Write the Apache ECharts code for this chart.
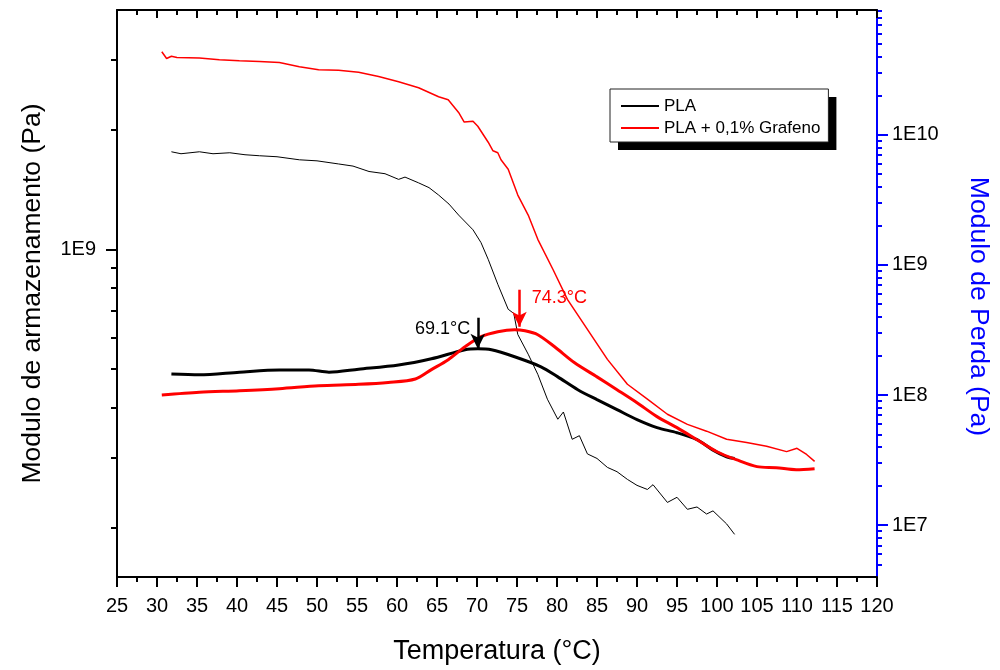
<!DOCTYPE html>
<html>
<head>
<meta charset="utf-8">
<script src="https://cdn.jsdelivr.net/npm/echarts@6/dist/echarts.min.js"></script>
<style>
  html, body { margin: 0; padding: 0; background: #fff; }
  #chart { width: 1000px; height: 670px; }
</style>
</head>
<body>
<div id="chart"></div>
<script>
// modulo de armazenamento (eixo esquerdo), linhas finas
const tempPlaE = [31.8, 33.0, 35.3, 37.0, 39.1, 41.0, 42.8, 45.0, 47.8, 50.0, 52.7, 54.5, 56.5, 58.5, 60.2, 61.0, 62.7, 64.0, 65.2, 66.5, 67.7, 69.5, 70.5, 71.4, 72.6, 73.9, 74.6, 75.1, 76.4, 77.6, 78.8, 80.1, 80.8, 81.9, 82.8, 83.8, 85.0, 86.3, 87.5, 88.8, 90.0, 91.3, 92.0, 93.8, 95.0, 96.3, 97.5, 98.7, 99.5, 101.2, 102.2]
const plaE = [1.76e9, 1.74e9, 1.76e9, 1.74e9, 1.75e9, 1.73e9, 1.72e9, 1.71e9, 1.68e9, 1.67e9, 1.64e9, 1.62e9, 1.57e9, 1.55e9, 1.50e9, 1.52e9, 1.47e9, 1.43e9, 1.37e9, 1.30e9, 1.22e9, 1.12e9, 1.04e9, 9.44e8, 8.17e8, 7.07e8, 6.9e8, 6.11e8, 5.45e8, 4.85e8, 4.2e8, 3.74e8, 3.9e8, 3.33e8, 3.4e8, 3.06e8, 2.98e8, 2.83e8, 2.76e8, 2.64e8, 2.55e8, 2.49e8, 2.56e8, 2.31e8, 2.38e8, 2.22e8, 2.25e8, 2.16e8, 2.2e8, 2.04e8, 1.92e8]

const tempGrafE = [30.6, 31.2, 31.8, 32.5, 35.3, 37.8, 40.3, 42.8, 45.3, 47.8, 50.2, 52.7, 55.2, 57.7, 60.2, 62.7, 65.2, 66.4, 67.7, 68.4, 69.5, 70.1, 71.4, 72.0, 72.6, 73.0, 73.9, 75.1, 76.4, 77.6, 79.5, 81.3, 83.8, 86.3, 88.8, 91.3, 93.8, 96.3, 98.7, 101.2, 103.7, 106.2, 108.7, 110.0, 111.2, 112.2]
const grafE = [3.14e9, 3.02e9, 3.06e9, 3.04e9, 3.03e9, 3.0e9, 2.98e9, 2.97e9, 2.95e9, 2.88e9, 2.83e9, 2.82e9, 2.79e9, 2.72e9, 2.64e9, 2.55e9, 2.42e9, 2.38e9, 2.21e9, 2.09e9, 2.10e9, 2.04e9, 1.86e9, 1.77e9, 1.75e9, 1.68e9, 1.59e9, 1.37e9, 1.22e9, 1.06e9, 8.9e8, 7.49e8, 6.29e8, 5.29e8, 4.58e8, 4.2e8, 3.85e8, 3.63e8, 3.49e8, 3.33e8, 3.27e8, 3.2e8, 3.1e8, 3.16e8, 3.05e8, 2.93e8]

// modulo de perda (eixo direito), linhas grossas
const tempPlaL = [31.8, 35.3, 40.3, 45.3, 49.0, 51.5, 55.2, 60.2, 64.3, 68.5, 70.1, 71.8, 74.7, 78.0, 80.1, 82.6, 85.0, 87.5, 90.0, 92.5, 95.0, 97.5, 99.4, 101.2, 102.2]
const plaL = [1.45e8, 1.43e8, 1.5e8, 1.56e8, 1.56e8, 1.5e8, 1.58e8, 1.7e8, 1.9e8, 2.23e8, 2.27e8, 2.23e8, 1.97e8, 1.65e8, 1.38e8, 1.10e8, 9.22e7, 7.73e7, 6.47e7, 5.62e7, 5.14e7, 4.54e7, 3.81e7, 3.35e7, 3.25e7]

const tempGrafL = [30.6, 35.3, 40.3, 45.3, 50.2, 55.2, 58.9, 62.3, 64.3, 66.4, 68.5, 70.5, 72.6, 74.7, 76.0, 77.6, 79.7, 82.2, 85.0, 87.5, 90.0, 92.5, 95.0, 97.5, 100.0, 102.4, 105.0, 107.4, 109.9, 112.2]
const grafL = [1.0e8, 1.05e8, 1.08e8, 1.12e8, 1.18e8, 1.21e8, 1.25e8, 1.33e8, 1.57e8, 1.87e8, 2.35e8, 2.81e8, 3.07e8, 3.18e8, 3.12e8, 2.91e8, 2.35e8, 1.77e8, 1.38e8, 1.10e8, 8.74e7, 6.83e7, 5.62e7, 4.54e7, 3.67e7, 3.19e7, 2.82e7, 2.77e7, 2.67e7, 2.72e7]

// marcas dos eixos
const leftMajor = [1e9]
const leftMinor = [2e8, 3e8, 4e8, 5e8, 6e8, 7e8, 8e8, 9e8, 2e9, 3e9]
const rightMajor = [1e7, 1e8, 1e9, 1e10]
const rightMinor = [5e6, 6e6, 7e6, 8e6, 9e6,
  2e7, 3e7, 4e7, 5e7, 6e7, 7e7, 8e7, 9e7,
  2e8, 3e8, 4e8, 5e8, 6e8, 7e8, 8e8, 9e8,
  2e9, 3e9, 4e9, 5e9, 6e9, 7e9, 8e9, 9e9,
  2e10, 3e10, 4e10, 5e10, 6e10, 7e10, 8e10, 9e10]

// picos (setas e textos)
const peakPla = { temp: 70.1, top: 3.93e8, tip: 2.27e8, labelTemp: 65.7, labelVal: 3.22e8, text: '69.1°C' }
const peakGraf = { temp: 75.3, top: 6.45e8, tip: 3.35e8, labelTemp: 80.3, labelVal: 5.57e8, text: '74.3°C' }

const legendNames = ['PLA', 'PLA + 0,1% Grafeno']

const font = 'Liberation Sans, Arial, sans-serif'
const zip = (xs, ys) => xs.map((x, i) => [x, ys[i]])
const sciLabel = v => '1E' + Math.round(Math.log10(v))

const chart = echarts.init(document.getElementById('chart'))

function peakMarks(p, color) {
  return {
    markLine: {
      silent: true, symbol: ['none', 'arrow'], symbolSize: [11, 15],
      lineStyle: { color: color, width: 2.5, type: 'solid' },
      itemStyle: { color: color },
      label: { show: false },
      data: [[{ coord: [p.temp, p.top] }, { coord: [p.temp, p.tip] }]]
    },
    markPoint: {
      silent: true, symbol: 'circle', symbolSize: 0,
      label: { show: true, color: color, fontSize: 18, fontFamily: font, formatter: p.text },
      data: [{ coord: [p.labelTemp, p.labelVal] }]
    }
  }
}

// caixa da legenda: uma com a sombra, outra por cima com a borda e os itens
const legendBase = {
  data: legendNames,
  orient: 'vertical',
  left: 610,
  top: 89,
  padding: [8, 8, 5, 10],
  itemGap: 4,
  itemWidth: 38,
  itemHeight: 14,
  borderRadius: 0,
  selectedMode: false,
  textStyle: { fontSize: 17, color: '#000', fontFamily: font, lineHeight: 18 }
}

const option = {
  animation: false,
  backgroundColor: '#fff',
  textStyle: { fontFamily: font },
  grid: { left: 117, right: 119, top: 10, bottom: 92 },
  legend: [
    Object.assign({}, legendBase, {
      z: 4,
      backgroundColor: '#fff',
      shadowColor: '#000', shadowBlur: 0, shadowOffsetX: 8, shadowOffsetY: 8,
      itemStyle: { opacity: 0 },
      lineStyle: { opacity: 0 },
      textStyle: Object.assign({}, legendBase.textStyle, { color: 'rgba(0,0,0,0)' })
    }),
    Object.assign({}, legendBase, {
      z: 5,
      borderColor: '#222',
      borderWidth: 1,
      itemStyle: { opacity: 0 }
    })
  ],
  xAxis: [
    {
      type: 'value', min: 25, max: 120, interval: 5,
      name: 'Temperatura (°C)', nameLocation: 'middle', nameGap: 61,
      nameTextStyle: { fontSize: 27, color: '#000', fontFamily: font },
      axisLine: { lineStyle: { color: '#000', width: 2 } },
      axisTick: { length: 10, lineStyle: { color: '#000', width: 2 } },
      minorTick: { show: true, splitNumber: 2, length: 5, lineStyle: { color: '#000', width: 2 } },
      axisLabel: { fontSize: 20, color: '#000', margin: 19, fontFamily: font },
      splitLine: { show: false }
    },
    {
      type: 'value', min: 25, max: 120, interval: 5, position: 'top',
      axisLine: { lineStyle: { color: '#000', width: 2 } },
      axisTick: { inside: true, length: 8, lineStyle: { color: '#000', width: 2 } },
      minorTick: { show: true, splitNumber: 2, length: 5, lineStyle: { color: '#000', width: 2 } },
      axisLabel: { show: false },
      splitLine: { show: false }
    }
  ],
  yAxis: [
    {
      type: 'log', logBase: 10, min: 1.5e8, max: 4e9, position: 'left',
      name: 'Modulo de armazenamento (Pa)', nameLocation: 'middle', nameGap: 71, nameRotate: 90,
      nameTextStyle: { fontSize: 26.5, color: '#000', fontFamily: font },
      axisLine: { lineStyle: { color: '#000', width: 2 } },
      axisTick: { customValues: leftMajor, length: 11, lineStyle: { color: '#000', width: 2 } },
      axisLabel: { customValues: leftMajor, formatter: sciLabel, fontSize: 20, color: '#000', margin: 21, fontFamily: font },
      splitLine: { show: false }
    },
    {
      type: 'log', logBase: 10, min: 1.5e8, max: 4e9, position: 'left',
      axisLine: { show: false },
      axisTick: { customValues: leftMinor, length: 6, lineStyle: { color: '#000', width: 2 } },
      axisLabel: { show: false },
      splitLine: { show: false }
    },
    {
      type: 'log', logBase: 10, min: 4e6, max: 9.1e10, position: 'right',
      name: 'Modulo de Perda (Pa)', nameLocation: 'middle', nameGap: 88, nameRotate: -90,
      nameTextStyle: { fontSize: 26.5, color: '#0000ff', fontFamily: font, padding: [0, 0, 0, 26] },
      axisLine: { lineStyle: { color: '#0000ff', width: 2 } },
      axisTick: { customValues: rightMajor, length: 11, lineStyle: { color: '#0000ff', width: 2 } },
      axisLabel: { customValues: rightMajor, formatter: sciLabel, fontSize: 20, color: '#000', margin: 15, fontFamily: font },
      splitLine: { show: false }
    },
    {
      type: 'log', logBase: 10, min: 4e6, max: 9.1e10, position: 'right',
      axisLine: { show: false },
      axisTick: { customValues: rightMinor, length: 5, lineStyle: { color: '#0000ff', width: 2 } },
      axisLabel: { show: false },
      splitLine: { show: false }
    }
  ],
  series: [
    {
      name: 'PLA', type: 'line', yAxisIndex: 0, symbol: 'none',
      data: zip(tempPlaE, plaE),
      lineStyle: { color: '#000', width: 1 }, itemStyle: { color: '#000' }
    },
    {
      name: 'PLA + 0,1% Grafeno', type: 'line', yAxisIndex: 0, symbol: 'none',
      data: zip(tempGrafE, grafE),
      lineStyle: { color: '#ff0000', width: 1.5 }, itemStyle: { color: '#ff0000' }
    },
    Object.assign({
      name: 'PLA perda', type: 'line', yAxisIndex: 2, symbol: 'none', smooth: 0.3,
      data: zip(tempPlaL, plaL),
      lineStyle: { color: '#000', width: 3 }, itemStyle: { color: '#000' }
    }, peakMarks(peakPla, '#000')),
    Object.assign({
      name: 'Grafeno perda', type: 'line', yAxisIndex: 2, symbol: 'none', smooth: 0.3,
      data: zip(tempGrafL, grafL),
      lineStyle: { color: '#ff0000', width: 3 }, itemStyle: { color: '#ff0000' }
    }, peakMarks(peakGraf, '#ff0000'))
  ]
}

chart.setOption(option)
</script>
</body>
</html>
